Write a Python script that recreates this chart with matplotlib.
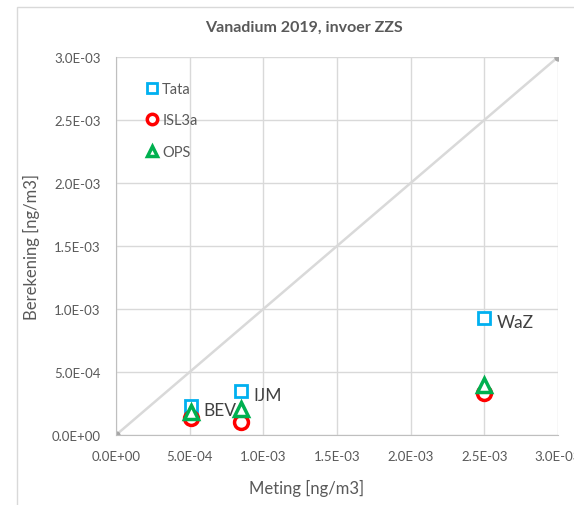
import matplotlib.pyplot as plt
from matplotlib.ticker import FuncFormatter, MultipleLocator
from matplotlib.patches import Rectangle
from matplotlib.lines import Line2D

plt.rcParams['font.family'] = ['Lato', 'DejaVu Sans']

# data
locaties = ['BEV', 'IJM', 'WaZ']
meting = [5.1e-4, 8.5e-4, 2.5e-3]
tata = [2.3e-4, 3.5e-4, 9.3e-4]
isl3a = [1.35e-4, 1.03e-4, 3.3e-4]
ops = [1.8e-4, 2.05e-4, 4.0e-4]
lijn = [0.0, 3.0e-3]

grijs = '#595959'

fig = plt.figure(figsize=(5.74, 5.06), dpi=100)
ax = fig.add_axes([116 / 574, 1 - 436 / 506, 442 / 574, 378 / 506])

# frame round the chart area (cropped on the right/bottom)
fig.patches.append(Rectangle((17 / 574, -0.1), 1.2, 1 - 8 / 506 + 0.1,
                             transform=fig.transFigure, fill=False,
                             edgecolor='#d9d9d9', linewidth=1))

ax.plot(lijn, lijn, color='#d9d9d9', linewidth=1.8, marker='o',
        markersize=5, markerfacecolor='#a6a6a6', markeredgecolor='#a6a6a6',
        zorder=2)

ax.plot(meting, tata, linestyle='none', marker='s', markersize=8,
        markerfacecolor='white', markeredgecolor='#00b0f0',
        markeredgewidth=2, zorder=3)
ax.plot(meting, isl3a, linestyle='none', marker='o', markersize=10,
        markerfacecolor='white', markeredgecolor='#ff0000',
        markeredgewidth=2.5, zorder=4)
ax.plot(meting, ops, linestyle='none', marker='^', markersize=10,
        markerfacecolor='white', markeredgecolor='#00b050',
        markeredgewidth=2.5, zorder=5)

for naam, x, y in zip(locaties, meting, tata):
    ax.annotate(naam, (x, y), xytext=(9, -3), textcoords='offset points',
                fontsize=12.5, color='#404040', va='center', zorder=6)

ax.set_xlim(0, 3.0e-3)
ax.set_ylim(0, 3.0e-3)
ax.xaxis.set_major_locator(MultipleLocator(5e-4))
ax.yaxis.set_major_locator(MultipleLocator(5e-4))
fmt = FuncFormatter(lambda v, p: f'{v:.1E}')
ax.xaxis.set_major_formatter(fmt)
ax.yaxis.set_major_formatter(fmt)
ax.tick_params(length=0, labelsize=9.5, labelcolor=grijs, pad=11)
ax.grid(True, color='#d9d9d9', linewidth=1)
ax.set_axisbelow(True)
for kant in ['top', 'right']:
    ax.spines[kant].set_visible(False)
for kant in ['left', 'bottom']:
    ax.spines[kant].set_color('#bfbfbf')

ax.set_xlabel('Meting [ng/m3]', fontsize=12, color=grijs)
ax.set_ylabel('Berekening [ng/m3]', fontsize=12, color=grijs)
ax.xaxis.set_label_coords((307 - 116) / 442, -(480 - 436) / 378)
ax.yaxis.set_label_coords(-(116 - 40) / 442, 0.5)

fig.text(304 / 574, 1 - 28 / 506, 'Vanadium 2019, invoer ZZS',
         fontsize=11.5, fontweight='bold', color=grijs, ha='center', va='center')

handles = [
    Line2D([], [], linestyle='none', marker='s', markersize=6.5,
           markerfacecolor='white', markeredgecolor='#00b0f0', markeredgewidth=2),
    Line2D([], [], linestyle='none', marker='o', markersize=7.5,
           markerfacecolor='white', markeredgecolor='#ff0000', markeredgewidth=2.5),
    Line2D([], [], linestyle='none', marker='^', markersize=7.5,
           markerfacecolor='white', markeredgecolor='#00b050', markeredgewidth=2.5),
]
ax.legend(handles, ['Tata', 'ISL3a', 'OPS'], loc='upper left',
          bbox_to_anchor=(0.055, 0.95), frameon=False,
          fontsize=10.5, labelcolor=grijs, handlelength=0.8, handletextpad=0.3,
          labelspacing=1.2, borderaxespad=0)

fig.savefig('out.png', dpi=100)
